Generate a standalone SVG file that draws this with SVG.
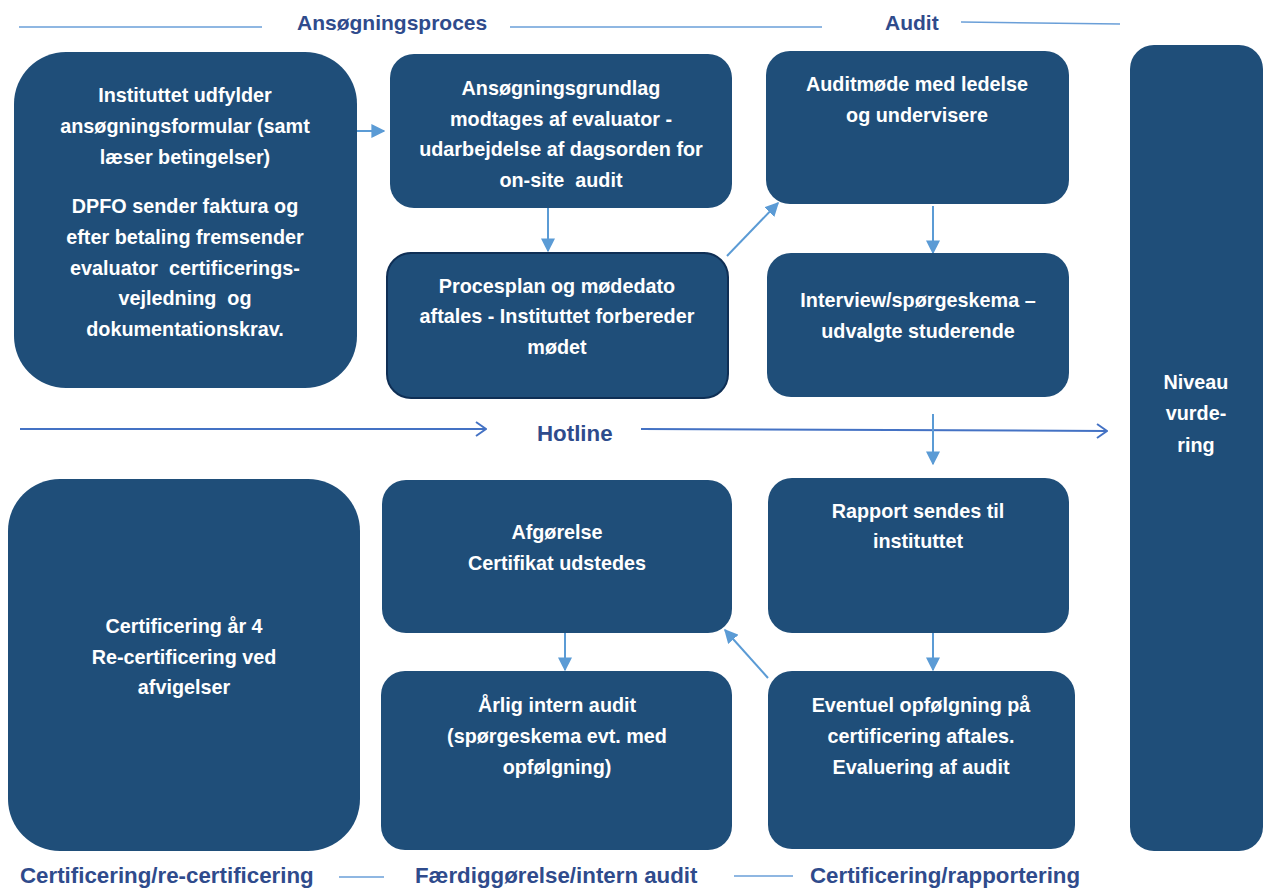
<svg xmlns="http://www.w3.org/2000/svg" width="1269" height="888" viewBox="0 0 1269 888">
<style>
.box{fill:#1f4e79}
.t{fill:#ffffff;font-family:"Liberation Sans",Arial,sans-serif;font-weight:bold;font-size:19.8px;text-anchor:middle}
.h{fill:#2f4b8c;font-family:"Liberation Sans",Arial,sans-serif;font-weight:bold;font-size:21px}
.b{font-size:22.3px}
.rule{stroke:#6a9fd8;stroke-width:1.5;fill:none}
.arr{stroke:#5b9bd5;stroke-width:2;fill:none;marker-end:url(#tri)}
.hot{stroke:#4472c4;stroke-width:2;fill:none;marker-end:url(#chev)}
</style>
<defs>
<marker id="tri" viewBox="0 0 10 10" refX="9" refY="5" markerWidth="14" markerHeight="14" markerUnits="userSpaceOnUse" orient="auto"><path d="M0,0 L10,5 L0,10 z" fill="#5b9bd5"/></marker>
<marker id="chev" viewBox="0 0 12 16" refX="11" refY="8" markerWidth="12" markerHeight="16" markerUnits="userSpaceOnUse" orient="auto"><path d="M1,1 L11,8 L1,15" fill="none" stroke="#4472c4" stroke-width="2"/></marker>
</defs>
<rect width="1269" height="888" fill="#ffffff"/>

<g id="headers">
<line class="rule" x1="19" y1="27" x2="262" y2="27"/>
<text class="h" x="297" y="30">Ansøgningsproces</text>
<line class="rule" x1="510" y1="27" x2="822" y2="27"/>
<text class="h" x="885" y="30">Audit</text>
<line class="rule" x1="961" y1="22" x2="1120" y2="24"/>
<text class="h b" x="537" y="441">Hotline</text>
<text class="h b" x="20" y="883">Certificering/re-certificering</text>
<line class="rule" x1="339" y1="877" x2="384" y2="877"/>
<text class="h b" x="415" y="883">Færdiggørelse/intern audit</text>
<line class="rule" x1="734" y1="876" x2="793" y2="876"/>
<text class="h b" x="810" y="883">Certificering/rapportering</text>
</g>

<g id="connectors">
<line class="arr" x1="348" y1="131" x2="384" y2="131"/>
<line class="arr" x1="548" y1="208" x2="548" y2="251"/>
<line class="arr" x1="727" y1="256" x2="778" y2="203"/>
<line class="arr" x1="933" y1="206" x2="933" y2="253"/>
<line class="hot" x1="20" y1="429" x2="486" y2="429"/>
<line class="hot" x1="641" y1="429" x2="1107" y2="431"/>
<line class="arr" x1="933" y1="414" x2="933" y2="464"/>
<line class="arr" x1="933" y1="633" x2="933" y2="670"/>
<line class="arr" x1="565" y1="622" x2="565" y2="670"/>
<line class="arr" x1="768" y1="678" x2="725" y2="630"/>
</g>

<g id="n1">
<rect class="box" x="14" y="52" width="343" height="336" rx="52"/>
<text class="t" x="185" y="102">Instituttet udfylder</text>
<text class="t" x="185" y="133">ansøgningsformular (samt</text>
<text class="t" x="185" y="164">læser betingelser)</text>
<text class="t" x="185" y="213">DPFO sender faktura og</text>
<text class="t" x="185" y="244">efter betaling fremsender</text>
<text class="t" x="185" y="275" xml:space="preserve">evaluator  certificerings-</text>
<text class="t" x="185" y="305" xml:space="preserve">vejledning  og</text>
<text class="t" x="185" y="336">dokumentationskrav.</text>
</g>

<g id="n2">
<rect class="box" x="390" y="54" width="342" height="154" rx="24"/>
<text class="t" x="561" y="95">Ansøgningsgrundlag</text>
<text class="t" x="561" y="126">modtages af evaluator -</text>
<text class="t" x="561" y="156">udarbejdelse af dagsorden for</text>
<text class="t" x="561" y="187" xml:space="preserve">on-site  audit</text>
</g>

<g id="n3">
<rect class="box" x="387" y="253" width="341" height="145" rx="24" stroke="#0f2f55" stroke-width="2"/>
<text class="t" x="557" y="293">Procesplan og mødedato</text>
<text class="t" x="557" y="323">aftales - Instituttet forbereder</text>
<text class="t" x="557" y="354">mødet</text>
</g>

<g id="n4">
<rect class="box" x="766" y="51" width="303" height="153" rx="24"/>
<text class="t" x="917" y="91">Auditmøde med ledelse</text>
<text class="t" x="917" y="122">og undervisere</text>
</g>

<g id="n5">
<rect class="box" x="767" y="253" width="302" height="144" rx="24"/>
<text class="t" x="918" y="307">Interview/spørgeskema –</text>
<text class="t" x="918" y="338">udvalgte studerende</text>
</g>

<g id="n6">
<rect class="box" x="1130" y="45" width="133" height="806" rx="24"/>
<text class="t" x="1196" y="389">Niveau</text>
<text class="t" x="1196" y="420">vurde-</text>
<text class="t" x="1196" y="452">ring</text>
</g>

<g id="n7">
<rect class="box" x="8" y="479" width="352" height="372" rx="52"/>
<text class="t" x="184" y="633">Certificering år 4</text>
<text class="t" x="184" y="664">Re-certificering ved</text>
<text class="t" x="184" y="694">afvigelser</text>
</g>

<g id="n8">
<rect class="box" x="382" y="480" width="350" height="153" rx="24"/>
<text class="t" x="557" y="539">Afgørelse</text>
<text class="t" x="557" y="570">Certifikat udstedes</text>
</g>

<g id="n9">
<rect class="box" x="768" y="478" width="301" height="155" rx="24"/>
<text class="t" x="918" y="518">Rapport sendes til</text>
<text class="t" x="918" y="548">instituttet</text>
</g>

<g id="n10">
<rect class="box" x="381" y="671" width="351" height="179" rx="24"/>
<text class="t" x="557" y="712">Årlig intern audit</text>
<text class="t" x="557" y="743">(spørgeskema evt. med</text>
<text class="t" x="557" y="774">opfølgning)</text>
</g>

<g id="n11">
<rect class="box" x="768" y="671" width="307" height="178" rx="24"/>
<text class="t" x="921" y="712">Eventuel opfølgning på</text>
<text class="t" x="921" y="743">certificering aftales.</text>
<text class="t" x="921" y="774">Evaluering af audit</text>
</g>
</svg>
